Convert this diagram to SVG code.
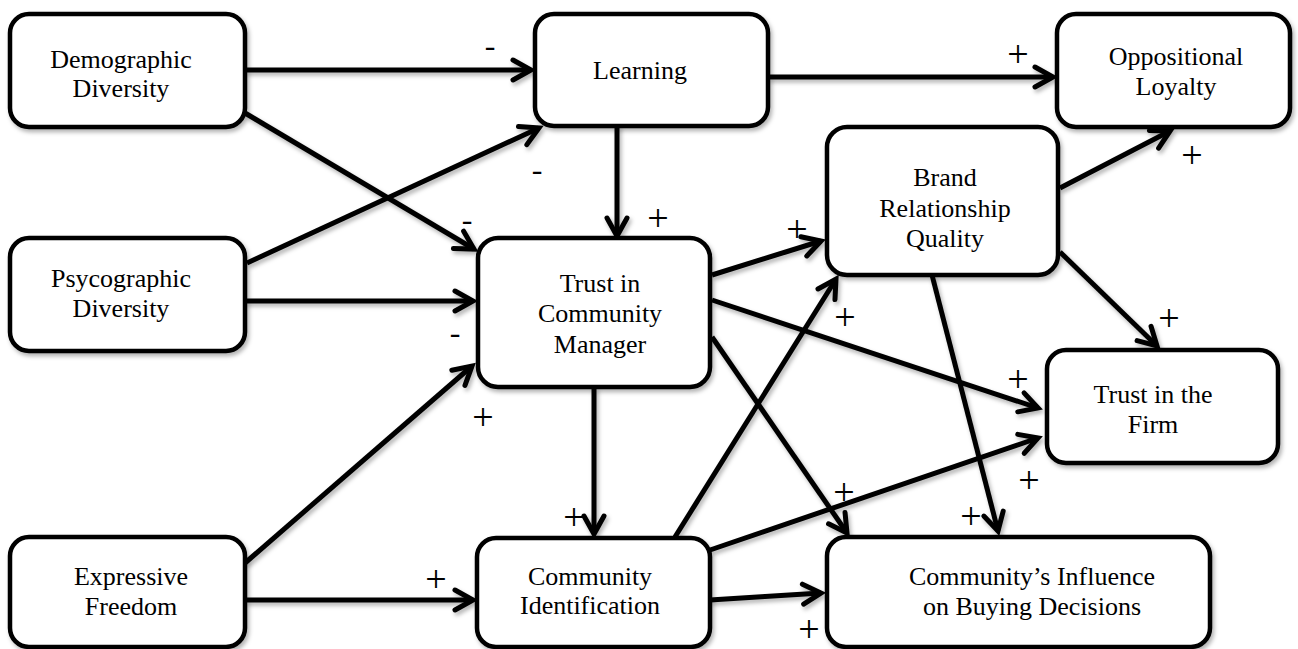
<svg xmlns="http://www.w3.org/2000/svg" width="1298" height="649" viewBox="0 0 1298 649">
<style>
.box{fill:#fff;stroke:#000;stroke-width:4.5;}
.lbl{font-family:"Liberation Serif","Times New Roman",serif;font-size:26px;fill:#000;text-anchor:middle;}
.sg{font-family:"Liberation Serif","Times New Roman",serif;font-size:32px;fill:#000;text-anchor:middle;}
.pl{font-family:"Liberation Serif","Times New Roman",serif;font-size:38px;fill:#000;text-anchor:middle;}
.con line{stroke:#000;stroke-width:5;fill:none;marker-end:url(#ah);}
</style>
<defs>
<filter id="sh" x="-10%" y="-10%" width="130%" height="130%">
<feDropShadow dx="2" dy="3" stdDeviation="2" flood-color="#000" flood-opacity="0.3"/>
</filter>
<marker id="ah" markerUnits="userSpaceOnUse" viewBox="-24 -16 30 32" markerWidth="30" markerHeight="32" refX="0" refY="0" orient="auto" style="overflow:visible">
<path d="M-18,-10 L0,0 L-18,10" fill="none" stroke="#000" stroke-width="5" stroke-linecap="round" stroke-linejoin="miter"/>
</marker>
</defs>
<rect width="1298" height="649" fill="#fff"/>
<g id="connectors" class="con" filter="url(#sh)">
<line x1="245" y1="70" x2="531" y2="70"/>
<line x1="768" y1="77" x2="1053" y2="77"/>
<line x1="245" y1="113" x2="474" y2="249"/>
<line x1="247" y1="263" x2="539" y2="128"/>
<line x1="617" y1="125" x2="617" y2="236"/>
<line x1="245" y1="301" x2="473" y2="301"/>
<line x1="245" y1="563" x2="472" y2="366"/>
<line x1="594" y1="387" x2="594" y2="534"/>
<line x1="245" y1="600" x2="473" y2="600"/>
<line x1="712" y1="275" x2="821" y2="241"/>
<line x1="712" y1="300" x2="1038" y2="408"/>
<line x1="712" y1="337" x2="847" y2="533"/>
<line x1="675" y1="537" x2="836" y2="279"/>
<line x1="710" y1="550" x2="1038" y2="438"/>
<line x1="710" y1="600" x2="821" y2="593"/>
<line x1="1060" y1="188" x2="1170" y2="131"/>
<line x1="1060" y1="252" x2="1157" y2="346"/>
<line x1="932" y1="275" x2="998" y2="531"/>
</g>
<g id="signs">
<text class="sg" x="490" y="56">-</text>
<text class="pl" x="1018" y="67">+</text>
<text class="sg" x="537" y="180">-</text>
<text class="pl" x="1192" y="168">+</text>
<text class="sg" x="467" y="230">-</text>
<text class="pl" x="658" y="231">+</text>
<text class="pl" x="797" y="242">+</text>
<text class="pl" x="845" y="330">+</text>
<text class="pl" x="1169" y="331">+</text>
<text class="sg" x="455" y="343">-</text>
<text class="pl" x="1018" y="392">+</text>
<text class="pl" x="483" y="430">+</text>
<text class="pl" x="1029" y="493">+</text>
<text class="pl" x="844" y="505">+</text>
<text class="pl" x="971" y="529">+</text>
<text class="pl" x="574" y="530">+</text>
<text class="pl" x="436" y="592">+</text>
<text class="pl" x="809" y="642">+</text>
</g>
<g id="demographic">
<rect class="box" x="10" y="14" width="235" height="113" rx="19" filter="url(#sh)"/>
<text class="lbl" x="121" y="68">Demographic</text>
<text class="lbl" x="121" y="97">Diversity</text>
</g>
<g id="psycographic">
<rect class="box" x="10" y="238" width="235" height="113" rx="19" filter="url(#sh)"/>
<text class="lbl" x="121" y="287">Psycographic</text>
<text class="lbl" x="121" y="317">Diversity</text>
</g>
<g id="expressive">
<rect class="box" x="10" y="537" width="235" height="110" rx="19" filter="url(#sh)"/>
<text class="lbl" x="131" y="585">Expressive</text>
<text class="lbl" x="131" y="615">Freedom</text>
</g>
<g id="learning">
<rect class="box" x="535" y="14" width="233" height="112" rx="19" filter="url(#sh)"/>
<text class="lbl" x="640" y="79">Learning</text>
</g>
<g id="trust-cm">
<rect class="box" x="478" y="238" width="232" height="149" rx="20" filter="url(#sh)"/>
<text class="lbl" x="600" y="292">Trust in</text>
<text class="lbl" x="600" y="322">Community</text>
<text class="lbl" x="600" y="353">Manager</text>
</g>
<g id="community-id">
<rect class="box" x="477" y="538" width="233" height="109" rx="19" filter="url(#sh)"/>
<text class="lbl" x="590" y="585">Community</text>
<text class="lbl" x="590" y="614">Identification</text>
</g>
<g id="brand">
<rect class="box" x="827" y="127" width="231" height="148" rx="20" filter="url(#sh)"/>
<text class="lbl" x="945" y="186">Brand</text>
<text class="lbl" x="945" y="217">Relationship</text>
<text class="lbl" x="945" y="247">Quality</text>
</g>
<g id="oppositional">
<rect class="box" x="1057" y="14" width="233" height="113" rx="19" filter="url(#sh)"/>
<text class="lbl" x="1176" y="65">Oppositional</text>
<text class="lbl" x="1176" y="95">Loyalty</text>
</g>
<g id="trust-firm">
<rect class="box" x="1047" y="350" width="231" height="113" rx="19" filter="url(#sh)"/>
<text class="lbl" x="1153" y="403">Trust in the</text>
<text class="lbl" x="1153" y="433">Firm</text>
</g>
<g id="influence">
<rect class="box" x="827" y="537" width="383" height="110" rx="19" filter="url(#sh)"/>
<text class="lbl" x="1032" y="585">Community’s Influence</text>
<text class="lbl" x="1032" y="615">on Buying Decisions</text>
</g>
</svg>
